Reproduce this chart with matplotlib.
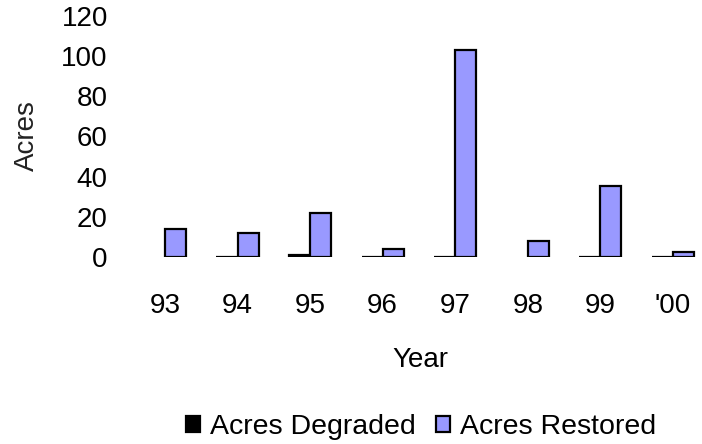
import numpy as np
import matplotlib
matplotlib.use("Agg")
import matplotlib.pyplot as plt

years = ["93", "94", "95", "96", "97", "98", "99", "'00"]
degraded = [np.nan, 0, 1, 0, 0, np.nan, 0, 0]
restored = [14, 12, 22, 4, 103, 8, 35.5, 2.3]

plt.rcParams['font.family'] = ['Liberation Sans', 'DejaVu Sans']

fig = plt.figure(figsize=(7.02, 4.44), dpi=100)
ax = fig.add_axes([0.1833, 0.4212, 0.827, 0.5428])

x = np.arange(len(years))
w = 0.29
ax.bar(x - w, degraded, width=w, align='edge', color='black', edgecolor='black',
       linewidth=1.6, label='Acres Degraded')
ax.bar(x, restored, width=w, align='edge', color='#9999FF', edgecolor='black',
       linewidth=1.6, label='Acres Restored')

ax.set_xlim(-0.5, 7.5)
ax.set_ylim(0, 120)
ax.set_yticks(range(0, 121, 20))
ax.set_xticks(x)
ax.set_xticklabels(years)
for s in ax.spines.values():
    s.set_visible(False)
ax.tick_params(axis='both', length=0, labelsize=20)
ax.tick_params(axis='y', pad=15)
ax.tick_params(axis='x', pad=26)

fig.text(27 / 702, 1 - 136 / 444, "Acres", rotation=90, fontsize=20,
         color='#222222', ha='center', va='center')
fig.text(420 / 702, 1 - 360 / 444, "Year", fontsize=20, ha='center', va='center')

fig.legend(loc='center', bbox_to_anchor=(421 / 702, 1 - 427 / 444), ncol=2,
           frameon=False, fontsize=20.5, handlelength=0.5, handleheight=0.5,
           handletextpad=0.35, columnspacing=0.7)

fig.savefig("out.png", dpi=100)
